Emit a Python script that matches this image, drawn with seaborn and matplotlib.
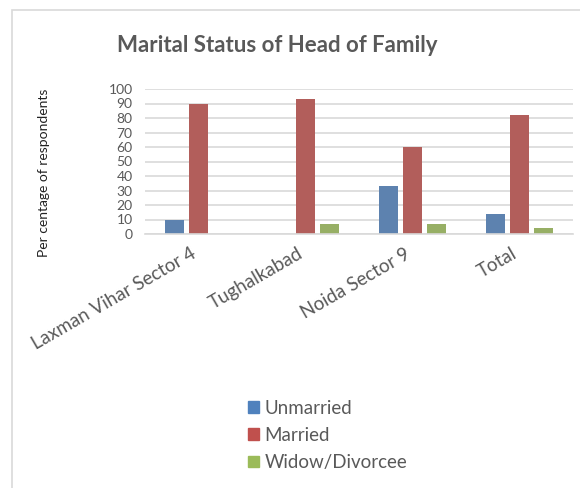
import matplotlib
matplotlib.use("Agg")
import matplotlib.pyplot as plt
import matplotlib.patches as mpatches
import pandas as pd
import seaborn as sns

# data
locations = ['Laxman Vihar Sector 4', 'Tughalkabad', 'Noida Sector 9', 'Total']
statuses = ['Unmarried', 'Married', 'Widow/Divorcee']
unmarried = [10, 0, 33.3, 14]
married = [90, 93.3, 60, 82]
widow = [0, 6.7, 6.7, 4]
yticks = list(range(0, 101, 10))

colors = ['#4F81BD', '#C0504D', '#9BBB59']
grey = '#595959'

df = pd.DataFrame({
    'location': locations * 3,
    'status': [s for s in statuses for _ in locations],
    'value': unmarried + married + widow,
})

sns.set_style("white")
plt.rcParams['font.family'] = ['Lato', 'DejaVu Sans']

fig = plt.figure(figsize=(5.8, 4.88), dpi=100)
ax = fig.add_axes([145/580, 1 - 234/488, (573 - 145)/580, (234 - 89)/488])

sns.barplot(data=df, x='location', y='value', hue='status',
            order=locations, hue_order=statuses, palette=colors,
            width=0.66, gap=0.19, edgecolor='none', ax=ax, legend=False)

ax.set_ylim(0, 100)
ax.set_yticks(yticks)
ax.set_xlim(-0.5, len(locations) - 0.5)
ax.yaxis.grid(True, color='#D9D9D9', lw=1.2)
ax.set_axisbelow(True)
for s in ['top', 'right', 'left']:
    ax.spines[s].set_visible(False)
ax.spines['bottom'].set_color('#D9D9D9')
ax.spines['bottom'].set_linewidth(1.2)
ax.set_xlabel('')
ax.set_ylabel('')
ax.tick_params(axis='y', length=0, labelsize=10, labelcolor=grey, pad=9)
ax.tick_params(axis='x', length=0, labelsize=13.5, labelcolor=grey, pad=8)
for lab in ax.get_xticklabels():
    lab.set_rotation(30)
    lab.set_ha('right')
    lab.set_va('top')

fig.text(44/580, 1 - 173/488, 'Per centage of respondents', rotation=90,
         ha='center', va='center', fontsize=10, color='#222222')
fig.text(277/580, 1 - 45/488, 'Marital Status of Head of Family',
         ha='center', va='center', fontsize=16, fontweight='bold', color=grey)

handles = [mpatches.Patch(color=c, label=s) for c, s in zip(colors, statuses)]
leg = fig.legend(handles=handles, loc='upper left',
                 bbox_to_anchor=(240/580, 1 - 392/488), frameon=False,
                 fontsize=13.5, handlelength=0.6, handleheight=0.6,
                 handletextpad=0.3, labelspacing=0.55, borderaxespad=0)
for t in leg.get_texts():
    t.set_color(grey)

fig.patches.append(mpatches.Rectangle((12/580, -0.01), 1.0, 1 - 10/488 + 0.01,
                                      transform=fig.transFigure, fill=False,
                                      edgecolor='#D9D9D9', lw=1.2))

fig.savefig('out.png', dpi=100)
